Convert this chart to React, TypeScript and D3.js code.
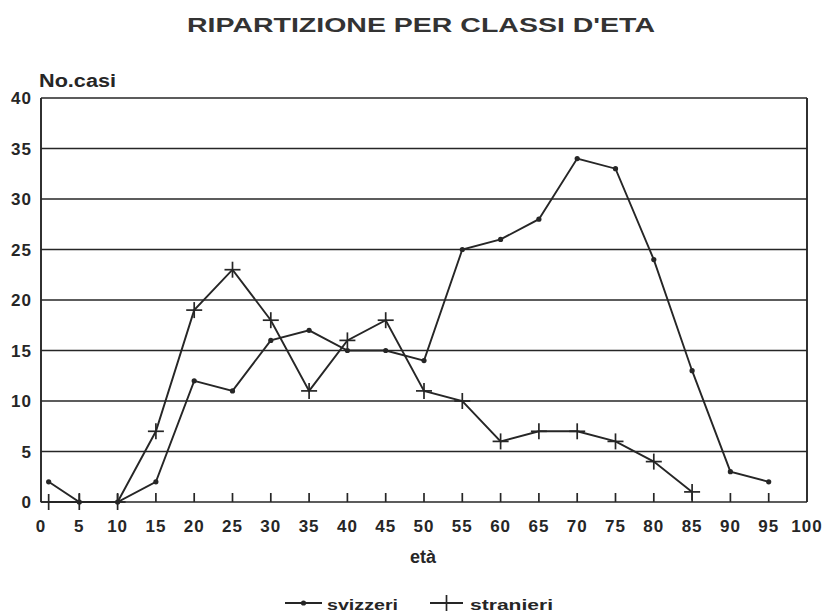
import React from "react";
import * as d3 from "d3";

const ages = [1, 5, 10, 15, 20, 25, 30, 35, 40, 45, 50, 55, 60, 65, 70, 75, 80, 85, 90, 95];
const svizzeri = [2, 0, 0, 2, 12, 11, 16, 17, 15, 15, 14, 25, 26, 28, 34, 33, 24, 13, 3, 2];
const stranieriAges = [1, 5, 10, 15, 20, 25, 30, 35, 40, 45, 50, 55, 60, 65, 70, 75, 80, 85];
const stranieri = [0, 0, 0, 7, 19, 23, 18, 11, 16, 18, 11, 10, 6, 7, 7, 6, 4, 1];
const xTicks = d3.range(0, 101, 5);
const yTicks = d3.range(0, 41, 5);

const W = 824;
const H = 616;
const INK = "#262626";
const FONT = "'Liberation Sans', Arial, sans-serif";

export default function App() {
  const x = d3.scaleLinear().domain([0, 100]).range([41, 807]);
  const y = d3.scaleLinear().domain([0, 40]).range([502, 98]);

  const line = d3
    .line<[number, number]>()
    .x((d) => x(d[0]))
    .y((d) => y(d[1]));

  const sv: [number, number][] = ages.map((a, i) => [a, svizzeri[i]]);
  const st: [number, number][] = stranieriAges.map((a, i) => [a, stranieri[i]]);

  return (
    <svg
      width={W}
      height={H}
      style={{ position: "absolute", left: 0, top: 0, background: "#fff" }}
      fontFamily={FONT}
    >
      <rect x={0} y={0} width={W} height={H} fill="#fff" />
      <text
        x={421}
        y={32}
        textAnchor="middle"
        fontSize={21}
        fontWeight="bold"
        fill="#333"
        textLength={468}
        lengthAdjust="spacingAndGlyphs"
      >
        RIPARTIZIONE PER CLASSI D'ETA
      </text>
      <text x={39} y={87} fontSize={18} fontWeight="bold" fill={INK} textLength={77} lengthAdjust="spacingAndGlyphs">
        No.casi
      </text>

      {/* horizontal gridlines */}
      {yTicks.map((t) => (
        <line key={"g" + t} x1={x(0)} x2={x(100)} y1={y(t)} y2={y(t)} stroke={INK} strokeWidth={1.7} />
      ))}
      {/* axes / frame */}
      <line x1={x(0)} x2={x(0)} y1={y(40)} y2={y(0)} stroke={INK} strokeWidth={1.9} />
      <line x1={x(100)} x2={x(100)} y1={y(40)} y2={y(0)} stroke={INK} strokeWidth={1.9} />
      {/* x ticks */}
      {xTicks
        .filter((t) => t > 0 && t < 100)
        .map((t) => (
          <line key={"t" + t} x1={x(t)} x2={x(t)} y1={y(0)} y2={y(0) - 9} stroke={INK} strokeWidth={1.7} />
        ))}
      {/* y labels */}
      {yTicks.map((t) => (
        <text
          key={"yl" + t}
          x={32}
          y={y(t) + 6}
          textAnchor="end"
          fontSize={17}
          fontWeight="bold"
          fill={INK}
          letterSpacing={1}
        >
          {t}
        </text>
      ))}
      {/* x labels */}
      {xTicks.map((t) => (
        <text
          key={"xl" + t}
          x={x(t)}
          y={y(0) + 30}
          textAnchor="middle"
          fontSize={17}
          fontWeight="bold"
          fill={INK}
          letterSpacing={1}
        >
          {t}
        </text>
      ))}
      <text x={410} y={563} fontSize={18} fontWeight="bold" fill={INK}>
        età
      </text>

      {/* series */}
      <path d={line(st) || ""} fill="none" stroke={INK} strokeWidth={1.9} />
      {st.map((d, i) => (
        <g key={"sp" + i}>
          <line x1={x(d[0]) - 8} x2={x(d[0]) + 8} y1={y(d[1])} y2={y(d[1])} stroke={INK} strokeWidth={1.7} />
          <line x1={x(d[0])} x2={x(d[0])} y1={y(d[1]) - 8} y2={y(d[1]) + 8} stroke={INK} strokeWidth={1.7} />
        </g>
      ))}
      <path d={line(sv) || ""} fill="none" stroke={INK} strokeWidth={1.9} />
      {sv.map((d, i) => (
        <circle key={"sv" + i} cx={x(d[0])} cy={y(d[1])} r={2.6} fill={INK} />
      ))}

      {/* legend */}
      <line x1={285} x2={322} y1={603} y2={603} stroke={INK} strokeWidth={1.9} />
      <circle cx={303.5} cy={603} r={2.6} fill={INK} />
      <text x={327} y={610} fontSize={15} fontWeight="bold" fill={INK} textLength={71} lengthAdjust="spacingAndGlyphs">
        svizzeri
      </text>
      <line x1={430} x2={463} y1={603} y2={603} stroke={INK} strokeWidth={1.9} />
      <line x1={446.5} x2={446.5} y1={595} y2={611} stroke={INK} strokeWidth={1.7} />
      <text x={470} y={610} fontSize={15} fontWeight="bold" fill={INK} textLength={83} lengthAdjust="spacingAndGlyphs">
        stranieri
      </text>
    </svg>
  );
}
